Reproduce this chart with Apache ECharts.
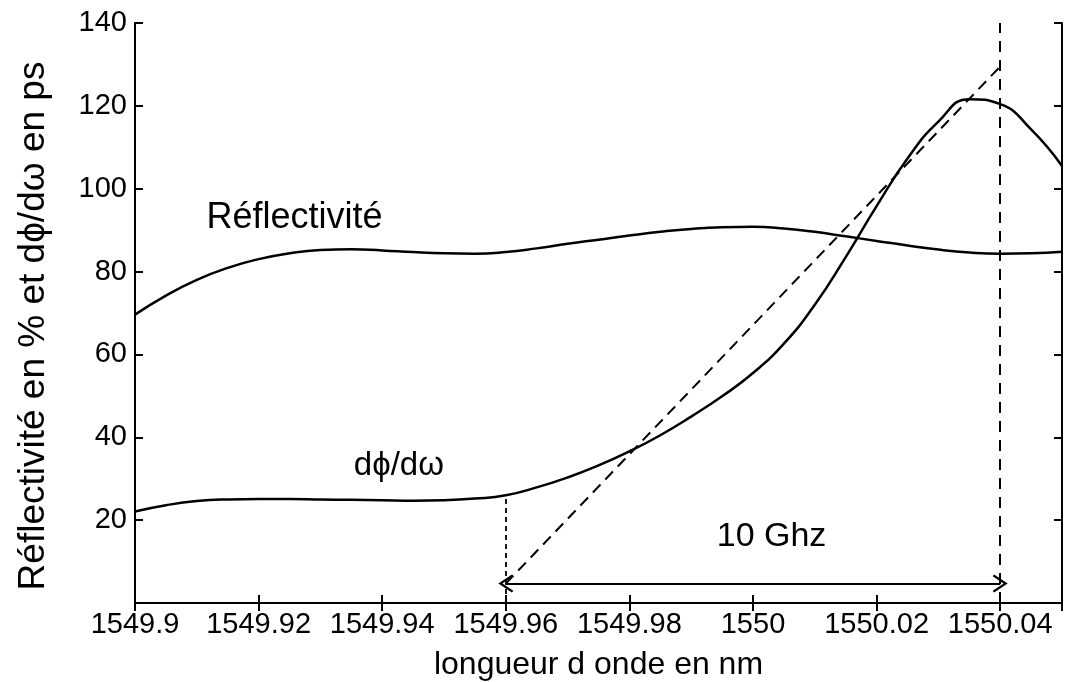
<!DOCTYPE html>
<html>
<head>
<meta charset="utf-8">
<script src="https://cdn.jsdelivr.net/npm/echarts@6/dist/echarts.min.js"></script>
<style>
html,body{margin:0;padding:0;background:#fff;}
#chart{width:1065px;height:682px;}
</style>
</head>
<body>
<div id="chart"></div>
<script>
// wavelength (nm)
const wavelength = [1549.900, 1549.905, 1549.910, 1549.915, 1549.920, 1549.925, 1549.930, 1549.935, 1549.940, 1549.945,
  1549.950, 1549.955, 1549.960, 1549.965, 1549.970, 1549.975, 1549.980, 1549.985, 1549.990, 1549.995,
  1550.000, 1550.005, 1550.010, 1550.015, 1550.020, 1550.025, 1550.030, 1550.035, 1550.040, 1550.045, 1550.050];
// Réflectivité (%)
const reflectivite = [69.6, 74.2, 78.0, 80.9, 83.0, 84.4, 85.2, 85.4, 85.1, 84.7,
  84.4, 84.3, 84.7, 85.6, 86.7, 87.7, 88.7, 89.6, 90.3, 90.7,
  90.8, 90.4, 89.6, 88.5, 87.4, 86.3, 85.3, 84.6, 84.3, 84.4, 84.8];
// dphi/domega (ps)
const dphi = [22.1, 23.6, 24.6, 25.0, 25.1, 25.1, 25.0, 24.9, 24.8, 24.7,
  24.8, 25.2, 26.0, 27.9, 30.3, 33.2, 36.6, 40.5, 45.0, 49.9,
  55.5, 62.6, 72.0, 83.5, 95.8, 107.3, 116.2, 121.6, 120.4, 114.3, 105.5];

// annotation geometry (data units)
const bandStart = 1549.96, bandEnd = 1550.04;
const arrowY = 4.7;
const tangentStart = [1549.96, 4.7], tangentEnd = [1550.04, 129.5];
const markerTop = 26.0;
const labels = [
  {text: 'Réflectivité', coord: [1549.9258, 93.0], size: 36},
  {text: 'd\u03D5/d\u03C9', coord: [1549.9427, 33.0], size: 33},
  {text: '10 Ghz', coord: [1550.003, 16.0], size: 34}
];
const xTicks = {min: 1549.9, max: 1550.05, interval: 0.02};
const yTicks = {min: 0, max: 140, interval: 20};

const FONT = '"Liberation Sans", Arial, Helvetica, sans-serif';
const chevron = 'path://M0,0 L7,10 L5.6,11 L0,3 L-5.6,11 L-7,10 Z';

const chart = echarts.init(document.getElementById('chart'), null, {renderer: 'canvas'});

const gridRect = {left: 135, right: 3, top: 23, bottom: 79, containLabel: false, outerBoundsMode: 'none'};

function tickAxis(gridIndex, position, t) {
  return {
    type: 'value', gridIndex: gridIndex, position: position,
    min: t.min, max: t.max, interval: t.interval,
    axisLine: {show: true, lineStyle: {color: '#000', width: 2}},
    axisTick: {show: true, inside: true, length: 8, lineStyle: {color: '#000', width: 2}},
    axisLabel: {show: false},
    splitLine: {show: false}
  };
}

const option = {
  backgroundColor: '#fff',
  animation: false,
  grid: [Object.assign({}, gridRect), Object.assign({}, gridRect)],
  xAxis: [
    {
      type: 'value', gridIndex: 0, position: 'bottom',
      min: xTicks.min, max: xTicks.max, interval: xTicks.interval,
      name: 'longueur d onde en nm', nameLocation: 'middle', nameGap: 46,
      nameTextStyle: {fontFamily: FONT, fontSize: 32, color: '#000'},
      axisLine: {show: true, lineStyle: {color: '#000', width: 2}},
      axisTick: {show: false},
      splitLine: {show: false},
      axisLabel: {
        show: true, margin: 7, color: '#000', fontFamily: FONT, fontSize: 29,
        showMaxLabel: false,
        formatter: v => (v > 1550.045 ? '' : String(parseFloat(v.toFixed(3))))
      }
    },
    tickAxis(1, 'bottom', xTicks),
    tickAxis(1, 'top', xTicks)
  ],
  yAxis: [
    {
      type: 'value', gridIndex: 0, position: 'left',
      min: yTicks.min, max: yTicks.max, interval: yTicks.interval,
      name: 'Réflectivité en % et d\u03D5/d\u03C9 en ps', nameLocation: 'middle', nameGap: 83, nameRotate: 90,
      nameTextStyle: {fontFamily: FONT, fontSize: 37, color: '#000', padding: [0, 26, 0, 0]},
      axisLine: {show: true, lineStyle: {color: '#000', width: 2}},
      axisTick: {show: false},
      splitLine: {show: false},
      axisLabel: {
        show: true, margin: 8, color: '#000', fontFamily: FONT, fontSize: 29,
        showMinLabel: false,
        formatter: v => (v === 0 ? '' : String(v))
      }
    },
    tickAxis(1, 'left', yTicks),
    tickAxis(1, 'right', yTicks)
  ],
  series: [
    {
      name: 'Réflectivité', type: 'line', xAxisIndex: 0, yAxisIndex: 0,
      data: wavelength.map((w, i) => [w, reflectivite[i]]),
      smooth: 0.5, showSymbol: false, symbol: 'none',
      lineStyle: {color: '#000', width: 2.5},
      markPoint: {
        silent: true,
        data: labels.map(l => ({
          coord: l.coord, symbol: 'circle', symbolSize: 0,
          label: {show: true, position: 'inside', formatter: l.text,
                  fontFamily: FONT, fontSize: l.size, color: '#000'}
        }))
      },
      markLine: {
        silent: true, animation: false,
        label: {show: false},
        data: [
          [{coord: tangentStart, symbol: 'none', lineStyle: {color: '#000', width: 2, type: [11, 7]}},
           {coord: tangentEnd, symbol: 'none'}],
          [{coord: [bandEnd, yTicks.min], symbol: 'none', lineStyle: {color: '#000', width: 2, type: [11, 8]}},
           {coord: [bandEnd, yTicks.max], symbol: 'none'}],
          [{coord: [bandStart, yTicks.min], symbol: 'none', lineStyle: {color: '#000', width: 1.8, type: [5, 4]}},
           {coord: [bandStart, markerTop], symbol: 'none'}],
          [{coord: [bandStart, arrowY], symbol: chevron, symbolSize: [18, 15], lineStyle: {color: '#000', width: 2.2, type: 'solid'}, itemStyle: {color: '#000'}},
           {coord: [bandEnd, arrowY], symbol: chevron, symbolSize: [18, 15], itemStyle: {color: '#000'}}]
        ]
      }
    },
    {
      name: 'dphi/domega', type: 'line', xAxisIndex: 0, yAxisIndex: 0,
      data: wavelength.map((w, i) => [w, dphi[i]]),
      smooth: 0.5, showSymbol: false, symbol: 'none',
      lineStyle: {color: '#000', width: 2.5}
    }
  ]
};
chart.setOption(option);
</script>
</body>
</html>
